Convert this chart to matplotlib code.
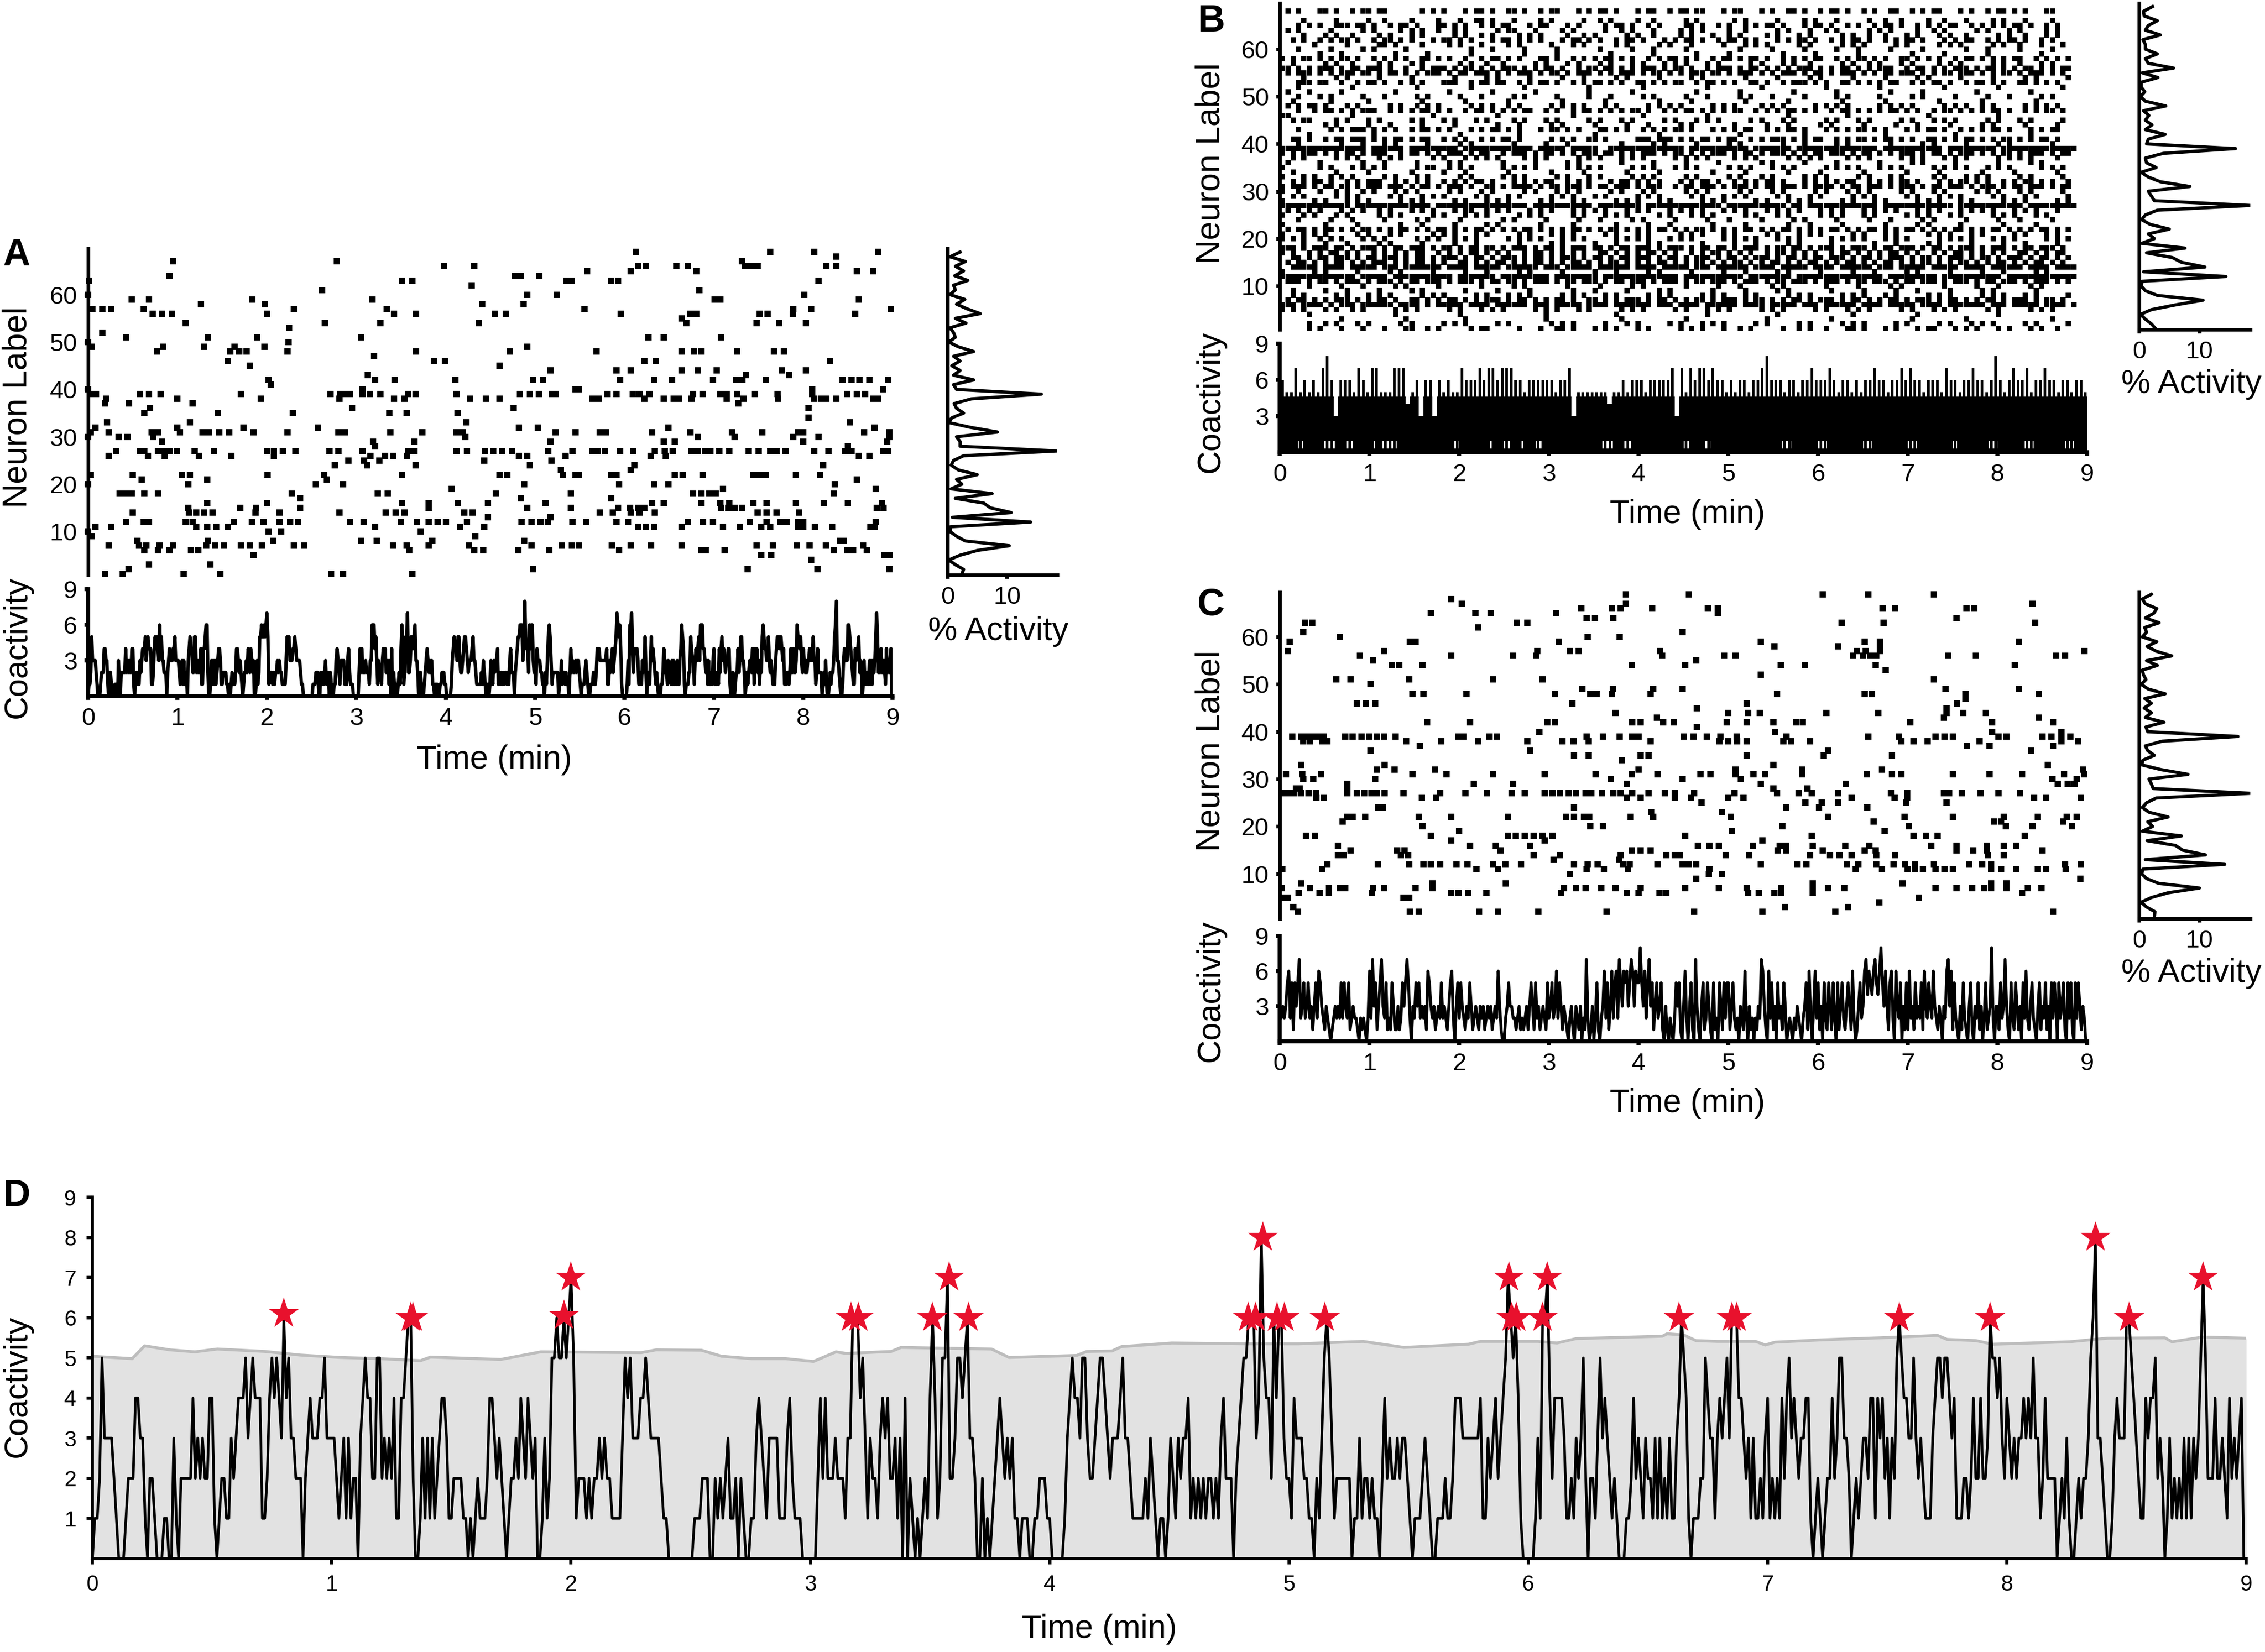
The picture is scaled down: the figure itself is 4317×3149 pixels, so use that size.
import numpy as np
import matplotlib
matplotlib.use("Agg")
import matplotlib.pyplot as plt

W, H = 4317, 3149
S = W / 1568.0  # reference was measured on a 1568 px wide preview
FONT = ["Liberation Sans", "DejaVu Sans"]
plt.rcParams["font.family"] = FONT

# raster A, read row by row: {neuron: times in min}
raster_a_left = {
    67: [0.95, 2.78], 66: [3.98, 4.32], 64: [0.91, 4.77, 4.84, 5.05],
    63: [0.01, 3.51, 3.63, 5.35, 5.41], 62: [4.29], 61: [2.62], 60: [0.0, 4.91, 5.24],
    59: [0.49, 0.68, 1.84, 3.18], 58: [1.26, 1.98, 4.41, 4.87],
    57: [0.05, 0.16, 0.26, 0.62, 2.3, 3.34], 56: [0.72, 0.83, 0.94, 2.0, 3.42, 3.67, 4.55, 4.67],
    54: [1.09, 2.65, 3.27, 4.37], 53: [2.25], 52: [0.16], 51: [0.42, 1.34, 1.89, 3.05], 50: [0.0, 2.24],
    49: [0.04, 0.84, 1.3, 1.64, 1.97, 4.91], 48: [0.77, 1.59, 1.69, 1.77, 2.23, 3.67, 4.72],
    47: [3.2], 46: [1.56, 3.87, 3.99], 45: [1.81, 4.6], 44: [5.17], 43: [3.13],
    42: [2.02, 3.21, 3.43, 4.11, 4.98, 5.09], 41: [2.04], 40: [0.0, 3.07, 5.45],
    39: [0.04, 0.09, 0.58, 0.68, 0.81, 1.71, 2.71, 2.82, 2.87, 2.93, 3.07, 3.15, 3.27, 3.58, 3.66, 4.12,
         4.83, 4.94, 5.04, 5.19, 5.23],
    38: [0.2, 1.0, 1.93, 2.81, 3.42, 3.54, 4.27, 4.45, 4.6], 37: [0.19, 0.46, 1.17], 36: [0.69, 2.95, 4.76],
    35: [0.63, 1.45, 2.29, 3.37, 3.56, 4.13], 33: [0.21, 1.14, 4.23], 32: [0.08, 1.0, 1.74, 2.57, 4.82, 5.03],
    31: [0.03, 0.23, 0.71, 0.78, 1.03, 1.28, 1.35, 1.47, 1.58, 1.85, 2.23, 2.8, 2.87, 3.38, 3.74, 4.12, 4.19,
         5.23, 5.45],
    30: [0.0, 0.34, 0.44, 0.73, 4.22], 29: [0.83, 3.19, 3.65, 5.17], 28: [3.21],
    27: [0.31, 0.58, 0.63, 0.78, 0.84, 0.91, 0.99, 1.19, 1.41, 2.0, 2.08, 2.18, 2.32, 2.7, 2.8, 3.07, 3.58,
         3.65, 4.12, 4.24, 4.44, 4.53, 4.63, 4.74, 5.15, 5.42],
    26: [0.23, 0.67, 0.86, 1.24, 1.6, 2.08, 3.16, 3.32, 3.41, 3.57, 4.82, 4.91, 5.34],
    25: [2.91, 3.09, 3.26, 4.43, 5.18], 24: [2.76, 3.12, 3.66, 4.94], 23: [5.29],
    22: [0.03, 0.5, 1.05, 1.14, 2.01, 2.64, 3.51, 4.6, 4.69, 5.31, 5.45], 21: [0.6, 1.33, 2.67],
    20: [0.0, 1.12, 2.55, 2.85, 4.88], 19: [4.07], 18: [0.35, 0.42, 0.49, 0.63, 0.78, 2.28, 3.24, 3.35, 4.56, 5.4],
    17: [2.37, 4.84], 16: [1.33, 2.0, 3.51, 3.81, 4.14, 4.47, 5.12], 15: [1.12, 1.7, 1.88, 2.37, 3.81, 4.91, 5.4],
    14: [0.5, 1.13, 1.21, 1.3, 1.39, 1.87, 2.14, 2.81, 3.33, 3.44, 3.54, 4.21, 4.3], 13: [4.47, 5.17],
    12: [0.42, 0.62, 0.68, 1.09, 1.17, 1.63, 1.83, 1.96, 2.14, 2.26, 2.35, 2.93, 3.08, 3.5, 3.68, 3.81, 3.91,
         4.0, 4.24, 4.85, 4.96, 5.06, 5.14, 5.42],
    11: [0.08, 0.26, 1.21, 1.33, 1.43, 1.56, 3.21, 4.16, 4.43], 10: [0.0, 2.02, 2.16, 3.72], 9: [0.04, 4.33],
    8: [0.55, 1.34, 2.07, 3.05, 3.23, 3.85, 4.88],
    7: [0.23, 0.57, 0.65, 0.8, 0.95, 1.32, 1.42, 1.52, 1.71, 1.81, 1.94, 2.3, 2.42, 3.41, 3.56, 3.81, 4.26, 4.96,
        5.3, 5.41],
    6: [0.63, 0.78, 0.91, 1.15, 1.23, 3.59, 4.32, 4.42, 4.81, 5.16], 5: [1.85], 3: [0.68, 1.37], 2: [0.45, 4.98],
    1: [0.19, 0.39, 1.07, 1.48, 2.72, 2.85, 3.63],
}
raster_a_right = {
    69: [6.13, 7.63, 8.12, 8.84], 68: [8.37], 67: [7.31], 66: [6.15, 6.24, 6.58, 6.71, 7.35, 7.42, 7.49, 8.26, 8.37],
    65: [5.58, 6.07, 6.8, 8.6, 8.78], 63: [5.85, 5.93, 8.17], 61: [6.84], 60: [8.01], 59: [7.01, 7.07, 8.62],
    57: [5.55, 7.89, 8.09, 8.98], 56: [5.96, 6.73, 6.8, 7.51, 7.6, 7.88, 8.58], 55: [6.64],
    54: [6.69, 7.48, 7.73, 8.03], 51: [6.27, 6.44, 7.08], 48: [5.69, 6.64, 6.78, 6.86, 7.26, 7.67, 7.78],
    46: [6.22, 6.35, 8.3], 44: [5.91, 6.07, 6.64, 6.82, 7.03, 7.76, 8.03], 43: [7.36, 7.84],
    42: [5.95, 6.33, 6.53, 6.99, 7.25, 7.32, 7.58, 8.44, 8.54, 8.63, 8.74, 8.95], 40: [5.49, 8.1, 8.89],
    39: [5.81, 5.91, 6.09, 6.17, 6.28, 6.77, 6.87, 7.07, 7.14, 7.26, 7.46, 7.71, 8.1, 8.49, 8.6, 8.69],
    38: [5.64, 5.71, 6.22, 6.44, 6.55, 6.61, 6.75, 7.14, 7.33, 7.72, 8.12, 8.2, 8.26, 8.37, 8.78, 8.83],
    37: [7.27], 36: [8.06], 34: [8.06], 33: [8.52], 32: [6.49, 8.8],
    31: [5.72, 5.79, 6.31, 6.74, 7.2, 7.54, 7.94, 8.0, 8.68, 8.96], 30: [6.82, 7.23, 7.89, 8.17, 8.96],
    29: [6.44, 6.56, 8.0, 8.94], 28: [8.5],
    27: [5.64, 5.7, 5.78, 5.95, 6.1, 6.34, 6.45, 6.54, 6.75, 6.82, 6.9, 6.96, 7.06, 7.17, 7.39, 7.5, 7.63, 7.7,
         7.8, 8.12, 8.28, 8.47, 8.54, 8.89, 8.95],
    26: [6.29, 6.46, 8.62, 8.74], 24: [6.11, 8.22], 23: [6.07],
    22: [5.49, 5.85, 5.91, 6.56, 6.65, 6.87, 7.44, 7.51, 7.58, 7.92, 8.19], 21: [8.6], 20: [5.94, 6.33, 6.49, 8.35],
    19: [7.1, 8.81], 18: [6.77, 6.86, 6.95, 7.02, 8.34], 17: [5.85],
    16: [6.31, 6.44, 6.86, 7.07, 7.17, 7.44, 7.59, 7.92, 8.23, 8.5, 8.88],
    15: [5.93, 6.06, 6.15, 6.22, 7.08, 7.16, 7.23, 7.31, 8.82, 8.9], 14: [5.72, 5.87, 6.07, 6.17, 6.34, 7.49, 7.59, 7.7, 7.95],
    12: [5.57, 5.91, 6.04, 6.71, 6.88, 6.99, 7.4, 7.59, 7.74, 7.81, 7.94, 8.0, 8.81],
    11: [6.15, 6.24, 6.33, 6.64, 7.1, 7.29, 7.53, 7.63, 7.94, 8.0, 8.13, 8.32, 8.75, 8.8], 8: [8.41, 8.45],
    7: [5.49, 5.86, 6.07, 6.3, 6.64, 7.48, 7.66, 7.93, 8.07, 8.25, 8.67], 6: [5.94, 6.86, 6.91, 7.12, 8.34, 8.49, 8.56, 8.71],
    5: [7.53, 7.64, 8.91, 8.97], 4: [8.09], 2: [7.38, 8.16, 8.96],
}

# raster C
raster_c_left = {
    69: [3.86], 68: [1.91], 67: [2.03, 3.86], 66: [3.36, 3.7, 3.8, 4.15], 65: [1.68, 2.18, 2.35, 3.08],
    64: [3.42, 3.51, 3.72], 63: [0.28, 0.36, 2.64, 2.76], 62: [2.21], 61: [0.26, 4.49], 60: [0.67, 3.43, 3.79],
    59: [0.11, 1.45, 1.51, 3.11], 57: [0.09, 1.16, 2.87, 3.23, 3.33, 4.24],
    56: [0.89, 1.91, 2.6, 2.86, 4.26], 55: [1.04], 54: [1.25, 1.33, 1.59, 3.92], 51: [0.63, 0.79, 1.44, 2.38, 2.93],
    50: [1.01], 49: [3.37, 3.71, 4.16], 48: [1.48, 1.6, 2.08, 3.07, 3.46, 3.53, 3.7, 4.13],
    46: [0.86, 0.96, 1.06, 3.26], 44: [3.74], 43: [4.2], 42: [1.64, 2.12, 2.98, 3.07, 3.93, 4.02, 4.27, 4.39], 40: [2.89],
    39: [0.14, 0.24, 0.3, 0.36, 0.42, 0.49, 0.73, 0.81, 0.91, 1.0, 1.08, 1.16, 1.29, 1.99, 2.05, 2.34, 2.42, 3.42,
         3.6, 3.79, 3.93, 4.0],
    38: [0.26, 0.34, 0.47, 0.53, 1.41, 1.8, 2.21, 2.76, 3.15, 3.27, 3.44, 4.13], 37: [1.56], 36: [1.01, 2.79],
    35: [3.28, 3.44, 4.02, 4.11], 34: [3.81], 33: [0.24, 1.17], 32: [1.08, 1.28, 1.73, 4.0],
    31: [0.07, 0.25, 0.46, 1.48, 1.86, 2.38, 2.95, 3.52, 3.92, 4.21], 30: [0.26, 0.37, 1.06, 3.69],
    29: [0.75, 2.16, 2.6, 3.87], 28: [0.18, 0.22, 0.75],
    27: [0.03, 0.09, 0.16, 0.24, 0.32, 0.4, 0.75, 0.86, 0.94, 1.02, 1.08, 1.17, 1.38, 1.79, 2.07, 2.31, 2.58, 2.73,
         2.95, 3.04, 3.12, 3.22, 3.3, 3.41, 3.47, 3.59, 3.72, 3.8, 3.93, 4.11, 4.29, 4.4],
    26: [0.41, 0.49, 1.58, 1.74, 3.87, 4.02, 4.4], 24: [1.1, 1.15, 3.28], 23: [4.14],
    22: [0.75, 0.81, 0.95, 1.55, 1.91, 2.54, 3.19, 3.28, 3.39, 3.45, 3.91, 4.16], 21: [0.7], 20: [1.59, 3.46, 3.6],
    19: [2.0], 18: [0.29, 0.39, 1.68, 2.54, 2.63, 2.73, 2.83, 2.93, 3.04], 17: [1.91, 2.95],
    16: [0.65, 2.12, 2.41, 2.79], 15: [0.79, 1.31, 1.39, 2.46, 3.92, 4.02, 4.13],
    14: [0.65, 0.71, 1.35, 1.43, 2.83, 3.12, 3.8, 4.31, 4.4], 13: [3.05, 3.78],
    12: [0.53, 1.09, 1.44, 1.6, 1.68, 1.79, 1.97, 2.09, 2.38, 2.51, 2.69, 3.28, 3.43, 3.54, 3.82, 3.9, 4.21],
    11: [0.03, 0.47, 2.19, 2.43, 3.42, 3.61, 3.88], 10: [3.23], 8: [0.24, 1.7, 2.52],
    7: [0.02, 0.34, 0.55, 0.67, 0.73, 1.04, 1.16, 1.51, 1.7, 3.17, 3.3, 3.41, 3.58, 3.74, 4.02],
    6: [0.21, 0.44, 0.55, 1.03, 1.91, 1.99, 2.1, 2.3, 3.13, 3.87, 4.0, 4.23, 4.31],
    5: [0.04, 0.09, 1.38, 1.44], 3: [0.15], 2: [0.2, 1.45, 1.55, 2.22, 2.43, 2.88, 3.64],
}
raster_c_right = {
    69: [4.56, 6.05, 6.56, 7.29], 67: [8.39], 66: [4.77, 4.88, 6.72, 6.86, 7.65, 7.74], 65: [4.88], 64: [7.54],
    63: [6.26, 6.73, 8.42], 61: [4.49], 59: [5.36, 6.52, 6.69, 8.24], 58: [5.51, 6.22, 6.69], 57: [6.43, 6.53, 6.69, 8.97],
    56: [4.95, 5.08, 6.39, 6.5, 6.58, 6.65, 7.45, 7.76, 8.65, 8.75], 55: [4.64], 54: [4.52, 5.58, 5.85, 6.64, 8.19],
    53: [6.75], 52: [5.36], 51: [7.29], 49: [4.49, 7.42, 8.24], 48: [5.54, 6.52, 6.6, 7.64, 8.46], 47: [7.64],
    46: [5.2, 7.55], 45: [4.65, 7.43], 44: [5.0, 5.22, 5.35, 6.09, 6.67, 7.43, 7.62, 7.87], 43: [7.4, 8.46],
    42: [4.98, 5.2, 5.5, 5.75, 5.83, 7.03, 7.94, 8.62], 41: [4.65], 40: [5.52, 7.94, 8.71],
    39: [4.5, 4.61, 4.76, 4.91, 5.09, 5.65, 6.56, 6.9, 7.31, 7.41, 7.5, 8.01, 8.1, 8.5, 8.6, 8.71, 8.81],
    38: [4.9, 5.0, 5.1, 5.2, 5.61, 5.7, 5.91, 6.93, 7.06, 7.22, 7.8, 8.71, 8.9], 37: [7.66, 7.91, 8.62], 36: [6.11, 8.37],
    35: [5.2, 6.06, 6.82], 33: [5.5, 8.56], 32: [5.08, 5.82, 6.71, 8.95],
    31: [4.69, 4.8, 5.08, 5.28, 5.41, 5.82, 6.54, 6.82, 6.93, 7.5, 7.91, 8.27, 8.74, 8.96], 30: [4.49, 5.14, 8.61, 8.88],
    29: [5.36, 6.31, 8.67, 8.78, 8.86], 28: [5.5, 5.88],
    27: [4.62, 5.07, 5.54, 5.78, 5.93, 6.22, 6.81, 6.99, 7.4, 7.46, 7.6, 7.81, 8.01, 8.25],
    26: [4.58, 5.0, 5.17, 6.37, 6.85, 6.99, 8.41, 8.54, 8.93], 25: [4.7, 5.86, 6.04, 6.22, 6.98, 7.43], 24: [5.64, 6.01, 6.55],
    23: [4.93], 22: [5.03, 6.11, 6.96, 7.5, 8.07, 8.45, 8.77, 8.88], 21: [6.62, 7.96, 8.04, 8.73],
    20: [5.6, 7.01, 8.09, 8.39, 8.83], 19: [5.04, 6.74], 18: [4.52, 5.93, 7.06, 7.2, 7.33, 8.3], 17: [5.38],
    16: [4.66, 4.79, 4.89, 5.27, 5.57, 5.64, 5.94, 6.3, 6.57, 7.26, 7.54, 7.88, 8.07, 8.21],
    15: [5.55, 5.64, 6.05, 6.52, 6.64, 7.54, 7.73, 7.88, 8.5], 14: [4.46, 4.97, 5.23, 5.91, 6.13, 6.24, 6.37, 6.65, 6.86, 7.89, 8.07],
    12: [4.49, 4.56, 4.64, 5.36, 5.77, 5.87, 6.32, 6.45, 6.65, 6.84, 6.97, 7.08, 7.29, 7.68, 7.83, 7.93, 8.75, 8.93],
    11: [4.79, 6.42, 6.71, 7.0, 7.08, 7.17, 7.31, 7.41, 7.5, 7.93, 8.04, 8.21, 8.45, 8.54, 8.76], 10: [4.78, 4.93],
    9: [4.64, 8.92], 8: [5.94, 6.94, 7.93, 8.1],
    7: [4.52, 4.89, 5.2, 5.59, 5.94, 6.11, 6.29, 7.31, 7.54, 7.72, 7.85, 7.93, 8.1, 8.34, 8.49],
    6: [5.22, 5.34, 5.51, 5.59, 5.94, 8.27], 5: [7.12], 4: [6.68], 3: [5.63, 6.33], 2: [4.62, 5.38, 6.19, 8.62],
}

# raster B is too dense for time lists: one string per neuron, one column = 0.06 min
raster_b_rows = {
    68: ".#.#...##.#..#.##.##......#.#.#...#.##.#..##.#..#.##...#.#.##.#...#.##..#.##.##...#.##...#.#..##.#..#.##.#..#.#..##..#.#.##...#.#..#.##.#.#...##.",
    66: "....#.....#.....#..#....#....#...#..##.#...#....#.#.....#..#.#....#..#.....#.#......#.#.....#....#.#...#.....#..#..#....#..#...#....#.#...#....#...",
    65: "...#.#.#..###.##.#..#.##.#...##.#.#..#.#.##...#.##...#.#....#.##.#..#.#....##.#..#.#..#.#.##.#...#.##.#..#.#..#.##.#..#.#.#.##..#.#.#.#.##.#..#.#.",
    64: ".#.#.....#.....#.#....#.#.#..#..#.#.....#.##...#....#.#.....#..#.#...#....#.#.#....#..#.....#.#...#..#.#.....#.#.#....#..#.#.....#.#...#.#....#.#.",
    63: "....#...#.#..#....#.#...#.#.....#.#..#.#....#.#.#....#..#.#.....#.#..#....#.#...#..#.#....#.#...#.#.....#.#..#..#...#.#...#.#..#.....#.#..#...#.#..",
    62: "..#.#..#.#.##.#..#.##.#.#...#.##.#.#...#.##.#.#.#...#.##.#.#..#.##.#...#.#.##.#..#.##.#.#...#.#.##.#..#.#.##.#..#.#.##.#...#.#.##..#.#.##.#..#.#..",
    61: "......#.....#.....##.#....#....#.#...#....#.#.....#...#.#.....#.#.....#.#...#.....#...#.#.#.....#.#.....#.#.#.....#.#.....#.#.#.....#.#..#...#...#.",
    60: "...#.....#.....#.#.....#...........#...#.....#.....#.......#.....#...#.....#.........#.....#.....#.....#...#.....#.....#.......#...#.....#.....#....",
    59: ".......#...#.........#.....#.......#.........#.....#.........#.......#.......#.....#.........#.....#.......#.........#.....#.......#.........#......",
    58: "#.#.##.#.#.##.#..#.#.#.#..##.#.#..#..#.##.#.#...##.#..#.#.#.##.#.#..#.#.##.#.#..#.##.#.##.#..#.#.#.##..#.#.##.#.#..##.#.#.#..#.##.#.#.#.##..#.#.#.#",
    57: "..#.....#.#..#....#.#...#.#......#.#..#..#.....#.#...#.#...#.#...#.#...#.#.#...#.#.....#.#...#.#..#.....#.#..#.#...#.#....#.#.#.....#.#..#...#.#...",
    56: "##.#.#.###.#.##.###.#..#..#.###.#.##.#.#.###.#.#.##.#..#.##.##.#.#.###.#.##.#..#.###.#.##.#.#.#.###.#.#.##.#.#.###..#.##.#.#.###.#.##.#.#.##.#.#.##",
    55: ".#.###.#.#.###.##.#.##.#.#.###.#.##.###.#.#.###.#.##.#.###.#.#.###.#.##.#.#.###.##.#.###.#.#.###.#.##.#.###.#.#.##.###.#.#.##.###.#.#.##.#.###.#.#",
    54: "....#.....#.#.....#.....#.......#.....#.#.....#.....#...#.....#.#.....#.....#.#.......#.....#.....#.#.....#.....#.....#.#.....#.....#.....#.#.....#",
    53: "...###.##..#..#.##.#..#.#.#...###..#.##.##..#.#.##.#..#.#.##.#.#..##.#.#.##..#.##.#.#..##.#..#.###.#.#..##.#.#.#.##..#.#.##.#..#.##.#.#..##.#.#.#..",
    52: "...#.........#...........#.........#.........#...........#.........#...........#.........#...........#.........#...........#.........#...........#.",
    51: ".#...#.....#.........#.........#.......#.......#.........#.......#...........#.......#.........#.......#.........#.....#.........#.........#.......",
    50: "...#...#.#.....#...#.....#.#.....#...#.....#.#.....#.....#...#.....#.#.....#...#.....#.#...#.....#.....#.#.....#.....#.#.....#.....#...#.....#.#...",
    49: "..#......#......#.........#.......#.......#.........#.......#.........#.....#.........#.......#.........#.......#.........#.......#.........#.......",
    48: ".#.#.##.#...#.#.....#.#..#.#.#.....#.#.#..#.#.....#.#.#.#...#.#.....#.#.#.#.....#.#.#....#.#.#.....#.#.#.#.....#.#.#.#.....#.#.#..#.#.....#.#.#.#..",
    47: "...#..#.##.#.#.###..#.#.#.##.#.#..#.##.#.#.#.##..#.#..#.##.#.#.#.##.#..#.#.##.#.#.#.##..#.#.#.##.#.#..#.##.#.#.#.##.#.#..#.##.#.#.#.##.#..#.#.##.#.",
    46: "##...........#..............#...........#.............#............#...........#..............#..........#..............#............#.............",
    45: "..#.##....#.#...#.#.....#.#...#.#...#.#....#.#...#.#.....#.#...#.#.....#.#...#.#.#.....#.#...#.#.....#.#...#.#.....#.#...#.#.#.....#.#...#.#.....#.",
    44: "........#.#.....#...#.....#.....#.......#...#.....#.#.....#.....#...#.....#.#.......#.....#...#.....#.#.....#.....#...#.....#.....#.#.....#.....#..",
    43: "...#.....#.#.###.#.#.#..#.##.#.#...#.#.##.#.#...#.##.#.#...##.#.#..#.#.#.##.#...#.#.#.##..#.#.##.#...#.#.#.##.#.#...#.#.##.#..#.#.#.##.#...#.#.##..",
    42: ".....#...........#...............#..........#.............#...........#..............#...........#..............#............#.............#.......",
    41: "..##.#..#.##.###.#.#.##.#.##..#.#.#..#.#.##.#.....#.#.#..##.#.....###.###.#.#.##.#.##..#.#.###.#.#.##..#.#.##.#.##.#.#..##.#.#.##.#.#.##.#.#.##.#..",
    40: "...#.......#...#...#.#.....#.....#.#.......#.....#...#.........#.....#.#.....#.....#.#.......#...#.....#.#.......#.....#.#.....#.....#.#.......#...",
    39: "################.######.#########.#############.#####.#####..##############.###########.#######.###############.###########.#########.##############",
    38: "#.#.###.#.#.##.#.###..#.##.#.#.###.#.##..#.###.#.##.#.#.###.##.#.#.###.#.##.#.#.###.#.##.#.###.#.#.##.###.#.##.#.#.###.#.##.#.###.#.#.##.#.###.#.##",
    37: "..#.#.....#.#.#...#.#.#.....#.#...#.#.#.#....#.#.#.....#.#.#...#.#.#.....#.#.#.#....#.#.#.....#.#.#.#....#.#.#.....#.#.#...#.#.#.....#.#.#.#....#.",
    36: ".#.....#.......#...#.....#.....#.#.......#.....#.....#.#.......#.....#.....#.....#.......#.#.....#.....#.......#.....#.#.....#.......#.....#.#.....",
    35: "#......#.#...#.#.#.#.....#.##..#.#.#.....#.#.#.#.....#.#.#.#.....#.#.#...#.#.#.....#.#.#...#.#.#.....#.#.#.#...#.#.#.....#.#.#.#...#.#.#.....#.#.#.",
    34: "..#.......#.....#.......#.....#...#.......#.......#.....#.......#.....#.........#.....#.......#.....#.......#.......#.....#.......#.....#.......#...",
    33: "#...#.#..#.#.#.....#.#...#.#.....#.#.....#.#.#.....#.#...#.#.....#.#.#.....#.#.....#.#...#.#.....#.#.#.....#.#...#.#.....#.#...#.#.#.....#.#.....#.",
    32: "..#.#.##.#..#.#.###..#.#.#.#..#.#.#.##.#...#.#.#.##..#.#.#...#.##.#.#.#...#.#.##.#..#.#.#.##.#...#.#.#.#.##..#.#.#.##.#...#.#.##.#.#..#.#.##.#.#..#",
    31: "#.###.#.##.##.#.###.###.#.##.#.###.#..##.#.####.#.##.###.#.##.###.#.###..#.##.###.#.###.#.##.###.#.####.#.##.###.#.###.#.##.###.#.###.#.##.###.#.##",
    30: "#..#...#..#.#..#.#...#.#.#.....#.#...#.#.....#.#...#.#.#.....#.#...#.#.....#.#.#.....#.#...#.#.....#.#...#.#.#.....#.#...#.#.....#.#.#...#.#.....#.",
    29: "..#.#.....#.#.#.....#.#...#.#.#.....#.#...#.#.....#.#.#...#.#.....#.#.#.....#.#...#.#.#.....#.#...#.#.....#.#.#.....#.#...#.#.#.....#.#...#.#.....#",
    28: "#.....#.#...#.#.#.....#.#.#.....#.#...#.#.#.....#.#...#.#.....#.#.#...#.#.....#.#.#.....#.#...#.#.#.....#.#...#.#.....#.#.#...#.#.....#.#.#.....#.#",
    27: "#############.##############.#################.###########.########.##############.###########.##.#############.#############.############.#########",
    26: ".#.#.#.#...#.#.#..#.#...#.#.#...#.##..#.#.#...#.#.#...#.#.#.#...#.#.#...#.#.#.#...#.#.#...#.#.#.#...#.#.#...#.#.#.#...#.#.#...#.#.#.#...#.#.#...#.",
    25: "#...#.#...#.#.....#.#.#.....#.#...#.#.#.....#.#.#.....#.#...#.#.#.....#.#...#.#.#.....#.#...#.#.....#.#.#...#.#.....#.#.#...#.#.....#.#.#...#.#....",
    24: "...#.....#...#.....#.....#.#.....#.......#.#.....#.....#...#.....#.#.....#.....#...#.....#.....#.#.....#.....#...#.....#.#.....#.....#...#.....#...",
    23: "#.......#.....#.......#...#.....#.....#.#.......#.....#.......#.....#...#.......#.....#.......#...#.....#.......#.....#.#.....#.......#.....#.......",
    22: ".#.##.#.##.#.#.##.#.#.##.#.#.##.#.#.##.#.#.#.##.#.#.#.##.#.#.##.#.#.#.##.#.#.##.#.#.#.##.#.#.##.#.#.#.##.#.#.##.#.#.##.#.#.#.##.#.#.##.#.#.#.##.#.#",
    21: "#...#.#.#.....#.#...#.#.....#.#.#...#.#.....#.#...#.#.#.....#.#...#.#.....#.#.#...#.#.....#.#...#.#.#.....#.#...#.#.....#.#.#...#.#.....#.#...#.#..",
    20: "#.#.#..#.#.#...#.#.#.....#.#.#..#.#.#.....#.#.#.#...#.#.#.....#.#.#.#...#.#.#.....#.#.#.#...#.#.#.....#.#.#.#...#.#.#.....#.#.#.#...#.#.#.....#.#.#",
    19: "....#...#...#.....#.#.....#.....#...#.......#.....#.#.....#...#.....#.#.......#.....#...#.....#.#.....#.......#...#.....#.#.....#.....#...#.....#...",
    18: "###.#.###.##.#.###.#.##.###.#.##.#.##.##.#.###.#.##.#.###.##.#.##.###.#.###.#.##.##.#.###.#.##.##.#.###.#.###.#.##.###.#.##.#.###.#.###.#.##.###.#.",
    17: "#.#..#.#.##.#.#..#.#.#.#.##..#.#.#.##.#.#.#..#.##.#.#.#.#..##.#.#.#.##.#.#..#.#.##.#.#.#..#.##.#.#.#..#.##.#.#.#.##.#.#..#.#.##.#.#.#.#..##.#.#.##.",
    16: "..##.#.##.###.#.##.###.#.##.#.###.#.##.#.###.#.##.#.###.#.##.#.##.###.#.##.#.###.#.##.#.###.#.##.#.##.###.#.##.#.###.#.##.#.###.#.##.#.###.#.##.#.#",
    15: ".#.##.#.#.##.#.#.###.#.#.##.#.#..##.#.#.##.#.#.##.#.#.##.#.#.##.#.#.#.##.#.#.##.#.#.##.#.#.##.#.#.##.#.#.##.#.#.##.#.#.##.#.#.##.#.#.##.#.#.##.#.#.",
    14: "..#####.####.#####.###.#######.####.#####.######.###.#####.######.####.#####.###.######.####.#####.####.######.###.#####.#####.####.######.####.####",
    13: "#.....#.#.....#.....#.#.....#.....#...#.....#.#.....#.....#...#.....#.#.....#.....#...#.....#.#.....#.....#...#.....#.#.....#.....#...#.....#.#.....",
    12: "##############.#####.###########.#######.#########.########.##############.###########.########.################.#########.###########.#############",
    11: ".###.#.##.#.###.#.###.#.##.###.#.###.#.##.##.#.###.#.##.###.#.##.###.#.###.#.##.###.#.###.#.##.###.#.###.#.##.###.#.##.###.#.###.#.##.###.#.###.#.#",
    10: ".....#.....#...#.....#.#.....#.......#.....#.#.......#.....#.....#.#.......#.....#...#.....#.#.......#.....#.....#.#.......#.....#...#.....#.#.....",
    9: "..#.....#...#.....#.....#.#.......#.....#.....#.......#...#.....#.....#.#.......#.....#.....#.#.......#.....#.....#...#.....#.....#.#.......#.......",
    8: "..#.#.....#.#...#.#.#.....#.#.#.....#.#...#.#.#.....#.#.#...#.#.....#.#.#.....#.#.#...#.#.....#.#.#.....#.#.#...#.#.....#.#.#.....#.#.#...#.#.....#",
    7: ".#.##.#.#.###.#.#.##.#..##.#.#.##.#.#.###.#.##.#.#.##.#..##.#.#.###.#.##.#.#.##.#.###.#.##.#.#.##.#.###.#.##.#.#.##.#.###.#.##.#.#.##.#.###.#.##.#.",
    6: "###.####.#.###.######.####.#.#####.####.######.###.#####.####.#######.###.####.######.####.#####.###.######.####.#####.####.#######.###.#####.####.#",
    5: "#.#.#...#.#..#.#.....#.#.#.....#.#...#.#.#.....#.#.#...#.#.....#.#.#.....#.#...#.#.#.....#.#.#.....#.#...#.#.#.....#.#...#.#.#.....#.#.....#.#.#...",
    4: ".....#...............#...........#...............#............#................#............#.............#...........#..............#.............",
    3: "...........#...........#..........#..............#.............#...........#..............#...........#..............#.........#...............#....",
    2: ".....#..#.#...#.#.....#.#.....#.#.#.....#.#.......#.#.#.....#...#.#.....#.#...#.#.#.....#.#.....#.#.....#.#.#.....#.#.....#.#...#.#.#.....#.#.....#.",
    1: ".....#.#...#...#...#...##..#.#.....#.##.....#...#..##.#...#.#.#...#.#.....#.#.#...#..#.#.....#..#.#..#...##.#...#.#...#.##...#.#.#...#.#...#.#..#..",
}

# coactivity of A and D, one list per minute, 0.01 min sampling
coact_a_m0 = [0, 1, 1, 2, 5, 3, 3, 3, 3, 2, 1, 0, 0, 0, 1, 2, 2, 2, 4, 4, 3, 3, 1, 0, 2, 2, 1, 0, 0, 0, 1, 1, 0, 0, 3, 1, 0, 2,
              2, 2, 2, 2, 4, 2, 3, 2, 3, 2, 2, 4, 4, 1, 0, 1, 2, 2, 1, 1, 3, 2, 3, 4, 4, 4, 5, 3, 4, 5, 4, 4, 4, 1, 1, 2,
              4, 5, 4, 5, 4, 3, 6, 4, 5, 3, 3, 2, 2, 2, 0, 2, 3, 4, 3, 3, 3, 4, 4, 5, 3, 3]
coact_a_m1 = [3, 3, 2, 1, 2, 3, 1, 3, 1, 2, 2, 0, 3, 4, 5, 4, 4, 2, 2, 5, 5, 2, 3, 2, 3, 2, 4, 1, 1, 4, 4, 5, 6, 6, 2, 0, 0, 1,
              3, 1, 3, 1, 3, 1, 2, 3, 4, 4, 3, 1, 1, 2, 2, 2, 2, 1, 1, 0, 1, 0, 1, 2, 1, 1, 1, 2, 4, 4, 3, 2, 3, 2, 1, 0,
              1, 2, 2, 3, 2, 4, 3, 2, 4, 3, 2, 3, 0, 0, 1, 3, 1, 2, 5, 5, 6, 5, 5, 6, 5, 6]
coact_a_m2 = [7, 5, 1, 2, 2, 2, 1, 2, 1, 2, 2, 3, 2, 3, 2, 2, 1, 1, 1, 1, 3, 5, 4, 5, 3, 3, 3, 4, 4, 5, 4, 3, 3, 3, 3, 2, 1, 1,
              0, 0, 0, 0, 0, 0, 0, 0, 0, 0, 1, 1, 1, 2, 2, 2, 0, 0, 2, 1, 2, 1, 2, 3, 1, 1, 2, 0, 2, 1, 0, 0, 1, 1, 3, 4,
              3, 2, 1, 3, 3, 3, 3, 1, 1, 1, 3, 4, 2, 1, 1, 1, 0, 0, 0]
coact_a_m3 = [0, 0, 0, 2, 4, 2, 4, 2, 2, 2, 3, 2, 2, 2, 1, 3, 3, 6, 6, 6, 4, 5, 3, 1, 3, 2, 2, 1, 3, 4, 3, 4, 2, 2, 3, 1, 3, 0,
              4, 0, 2, 1, 0, 1, 0, 1, 2, 1, 4, 6, 4, 1, 2, 5, 5, 7, 2, 2, 3, 5, 5, 4, 5, 6, 3, 3, 2, 0, 0, 2, 0, 1, 0, 1,
              2, 3, 4, 3, 2, 3, 2, 3, 1, 1, 0, 1, 1, 1, 0, 0, 1, 1, 2, 2, 2, 1]
coact_a_m4 = [1, 0, 0, 0, 0, 0, 1, 3, 4, 5, 4, 4, 3, 5, 5, 3, 2, 2, 3, 4, 5, 5, 4, 3, 2, 3, 3, 3, 4, 5, 3, 3, 2, 1, 1, 1, 1, 1,
              2, 1, 3, 2, 1, 0, 1, 1, 0, 1, 3, 2, 1, 3, 2, 3, 3, 4, 1, 2, 1, 2, 1, 2, 1, 2, 2, 1, 2, 1, 3, 4, 2, 2, 2, 0,
              2, 3, 4, 5, 5, 6, 6, 6, 3, 4, 8, 5, 4, 4, 2, 6, 4, 6, 6, 3, 2]
coact_a_m5 = [2, 1, 4, 3, 3, 3, 2, 2, 1, 1, 0, 2, 1, 3, 5, 6, 5, 3, 1, 2, 2, 2, 2, 2, 2, 0, 1, 1, 3, 1, 2, 2, 1, 2, 1, 1, 0, 2,
              4, 2, 3, 2, 2, 3, 2, 3, 3, 2, 1, 0, 1, 1, 1, 2, 3, 2, 1, 0, 0, 1, 1, 1, 2, 1, 1, 2, 4, 4, 4, 3, 3, 3, 3, 3,
              3, 3, 4, 1, 1, 3, 2, 3, 4, 2, 3, 4, 5, 7, 6, 5, 6, 4, 1, 0, 0]
coact_a_m6 = [0, 0, 0, 1, 3, 1, 6, 6, 7, 4, 2, 4, 4, 4, 4, 3, 1, 1, 2, 1, 3, 2, 3, 5, 2, 0, 2, 2, 1, 3, 5, 3, 4, 3, 2, 1, 2, 1,
              0, 0, 0, 1, 1, 2, 4, 2, 3, 2, 1, 3, 2, 2, 1, 3, 1, 3, 1, 2, 1, 3, 1, 1, 3, 4, 6, 5, 4, 1, 0, 1, 1, 1, 2, 2,
              5, 4, 3, 3, 1, 3, 4, 3, 4, 5, 3, 6, 6, 6, 4, 4, 3, 2, 3, 1, 3, 1, 1, 2, 1, 3]
coact_a_m7 = [4, 1, 2, 1, 2, 1, 4, 2, 4, 5, 3, 4, 3, 2, 3, 3, 4, 4, 1, 0, 1, 2, 1, 0, 1, 2, 2, 4, 2, 3, 5, 5, 3, 3, 2, 0, 1, 2,
              1, 2, 3, 3, 2, 4, 4, 1, 4, 3, 4, 2, 3, 1, 3, 2, 5, 6, 5, 4, 4, 3, 3, 5, 3, 2, 3, 2, 1, 1, 1, 3, 4, 5, 5, 4,
              5, 5, 4, 3, 4, 1, 1, 1, 2, 2, 1, 2, 4, 2, 2, 4, 2, 2, 3, 6, 5, 5, 4, 5, 3, 2]
coact_a_m8 = [4, 3, 2, 3, 2, 3, 3, 4, 3, 4, 3, 5, 3, 3, 1, 2, 4, 2, 2, 2, 2, 0, 1, 2, 1, 3, 1, 0, 0, 1, 2, 1, 2, 2, 3, 5, 6, 8,
              3, 3, 2, 1, 0, 0, 1, 3, 4, 3, 3, 3, 6, 6, 5, 4, 3, 2, 1, 1, 4, 3, 4, 4, 5, 2, 3, 2, 0, 1, 3, 1, 2, 1, 2, 1,
              3, 1, 3, 1, 3, 2, 3, 5, 7, 5, 2, 2, 2, 4, 2, 2, 3, 2, 1, 4, 2, 3, 2, 3, 4, 0]

# coactivity of C, 60 samples per minute
coact_c_m0 = [3, 2, 3, 2, 3, 5, 6, 2, 5, 1, 5, 3, 5, 7, 2, 3, 5, 2, 3, 5, 2, 3, 1, 3, 5, 2, 6, 5, 3, 2, 1, 3, 2, 1, 0, 1, 2, 3, 2, 3,
              2, 5, 2, 5, 3, 2, 5, 1, 2, 3, 2, 2, 1, 0, 2, 1, 2, 1, 0, 2]
coact_c_m1 = [6, 2, 7, 3, 5, 1, 3, 5, 7, 3, 2, 5, 1, 2, 1, 5, 3, 1, 1, 3, 1, 2, 5, 3, 5, 7, 5, 2, 0, 3, 2, 5, 3, 5, 2, 3, 2, 3, 1, 6,
              5, 3, 2, 3, 1, 2, 3, 2, 5, 2, 3, 2, 1, 3, 5, 6, 2, 0, 3, 5]
coact_c_m2 = [2, 5, 3, 2, 1, 3, 2, 5, 3, 1, 2, 3, 2, 1, 3, 2, 3, 1, 2, 3, 2, 3, 1, 2, 3, 2, 6, 3, 1, 0, 0, 2, 3, 5, 3, 3, 2, 2, 1, 2,
              3, 1, 2, 1, 2, 3, 1, 3, 5, 3, 1, 5, 2, 3, 1, 2, 3, 2, 1, 5]
coact_c_m3 = [2, 3, 5, 2, 3, 6, 2, 5, 3, 1, 3, 2, 1, 0, 2, 3, 1, 0, 3, 2, 1, 3, 0, 2, 1, 7, 2, 0, 1, 3, 0, 2, 5, 1, 0, 2, 3, 6, 2, 5,
              1, 3, 6, 2, 5, 6, 2, 7, 5, 3, 6, 5, 6, 3, 5, 7, 6, 3, 6, 5]
coact_c_m4 = [5, 8, 5, 3, 6, 2, 5, 7, 3, 5, 1, 3, 5, 2, 3, 5, 1, 0, 3, 1, 0, 2, 1, 0, 2, 5, 3, 5, 1, 0, 3, 6, 2, 0, 3, 5, 1, 0, 7, 3,
              1, 0, 3, 5, 1, 2, 5, 3, 1, 0, 5, 1, 2, 0, 5, 3, 1, 5, 2, 5]
coact_c_m5 = [5, 1, 3, 5, 2, 1, 2, 0, 3, 2, 1, 6, 2, 0, 3, 1, 2, 0, 2, 1, 3, 2, 7, 6, 3, 1, 0, 6, 2, 5, 1, 3, 0, 5, 2, 3, 1, 5, 3, 0,
              1, 2, 1, 0, 2, 1, 3, 2, 1, 0, 2, 3, 5, 1, 6, 2, 0, 3, 6, 2]
coact_c_m6 = [5, 1, 3, 0, 5, 2, 1, 5, 3, 1, 5, 2, 0, 5, 1, 3, 5, 2, 1, 3, 5, 3, 1, 6, 2, 0, 1, 3, 5, 2, 3, 6, 7, 4, 6, 5, 4, 6, 7, 5,
              4, 6, 8, 5, 3, 6, 3, 1, 5, 6, 2, 0, 6, 3, 2, 5, 0, 3, 1, 5]
coact_c_m7 = [1, 6, 2, 3, 1, 5, 2, 3, 2, 5, 1, 6, 3, 2, 5, 3, 2, 6, 3, 2, 1, 3, 2, 0, 3, 2, 6, 7, 3, 6, 1, 5, 2, 1, 0, 3, 1, 5, 2, 1,
              0, 3, 5, 1, 0, 3, 2, 5, 1, 3, 0, 2, 5, 1, 2, 3, 8, 2, 0, 3]
coact_c_m8 = [3, 1, 5, 2, 3, 7, 3, 1, 0, 5, 2, 1, 5, 3, 1, 3, 0, 5, 2, 6, 2, 1, 3, 5, 2, 1, 0, 3, 5, 1, 3, 2, 5, 1, 3, 0, 5, 2, 5, 3,
              0, 5, 2, 3, 5, 1, 0, 5, 2, 5, 1, 0, 5, 2, 5, 3, 1, 3, 2, 0]

# coactivity of B is solid black: upper edge every 0.05 min, plus the white slots where it never falls below 1
coact_b_top = [6, 5, 5, 7, 5, 6, 5, 6, 5, 7, 8, 6, 3, 6, 6, 6, 5, 7, 6, 5,
               7, 7, 5, 5, 5, 7, 7, 7, 4, 5, 6, 3, 6, 6, 3, 6, 5, 6, 5, 5,
               7, 6, 6, 6, 7, 6, 7, 7, 6, 7, 7, 7, 6, 6, 5, 6, 6, 6, 6, 6,
               6, 5, 6, 6, 7, 3, 5, 5, 5, 5, 5, 5, 5, 4, 5, 5, 6, 5, 6, 6,
               6, 5, 6, 6, 6, 6, 6, 7, 3, 7, 5, 7, 6, 7, 7, 6, 7, 6, 6, 5,
               6, 5, 6, 6, 5, 6, 6, 7, 8, 6, 6, 6, 5, 6, 6, 5, 6, 6, 7, 6,
               6, 6, 7, 6, 5, 6, 6, 5, 6, 5, 6, 6, 7, 6, 6, 5, 6, 6, 7, 6,
               7, 6, 6, 5, 6, 6, 6, 5, 7, 6, 6, 5, 6, 6, 7, 6, 6, 5, 6, 8,
               6, 5, 6, 7, 6, 6, 7, 5, 6, 6, 7, 6, 6, 5, 6, 6, 5, 6, 6, 5, 6]
coact_b_gap_start = [0.21, 0.49, 0.73, 1.02, 1.12, 1.93, 2.32, 2.47, 2.69, 2.86, 3.57, 3.84, 4.5, 4.72, 5.6, 6.0, 6.5, 7.0, 7.5, 7.9, 8.3, 8.75]
coact_b_gap_end = [0.28, 0.63, 0.82, 1.08, 1.3, 2.0, 2.38, 2.58, 2.74, 2.93, 3.74, 3.94, 4.56, 4.8, 5.7, 6.1, 6.6, 7.1, 7.55, 8.0, 8.4, 8.85]

# % activity per neuron, neuron 1 first
hist_a = [2.4, 2.7, 1.3, 0.2, 2.1, 5.0, 10.4, 3.0, 1.5, 0.4, 0.5, 14.0, 0.8, 10.7, 7.2, 6.1, 1.3, 7.5, 0.6, 2.4, 1.5, 5.0, 1.8, 0.6, 1.0,
          2.7, 18.4, 2.1, 2.1, 1.5, 8.4, 3.8, 0.2, 0.7, 2.7, 1.5, 1.1, 4.0, 15.8, 1.5, 1.0, 4.4, 1.0, 2.1, 0.7, 2.1, 1.0, 4.4, 1.8, 0.2,
          1.3, 1.0, 0.4, 3.1, 1.3, 5.5, 3.3, 1.5, 2.9, 0.4, 1.3, 1.0, 3.4, 1.2, 2.7, 1.3, 3.0, 0.4, 2.1]
hist_b = [2.7, 2.0, 1.0, 0.2, 2.0, 6.0, 10.6, 3.0, 1.0, 0.3, 0.5, 14.4, 0.7, 10.9, 7.0, 5.5, 1.2, 7.6, 0.4, 2.5, 1.5, 5.0, 1.8, 0.4, 1.0,
          3.0, 18.5, 2.5, 2.0, 1.5, 8.4, 3.5, 1.5, 0.3, 2.8, 1.2, 1.0, 4.0, 16.0, 1.2, 1.5, 4.3, 1.0, 2.1, 1.0, 1.6, 0.7, 4.4, 1.0, 0.2,
          0.9, 0.3, 0.3, 3.1, 0.5, 5.7, 1.5, 1.0, 3.0, 1.0, 1.0, 0.6, 3.5, 1.0, 1.5, 3.0, 0.8, 0.7, 2.2]
hist_c = [2.5, 2.6, 1.2, 0.3, 2.0, 4.8, 10.0, 3.2, 1.2, 0.4, 0.6, 14.2, 1.0, 11.0, 7.2, 6.0, 1.3, 7.0, 0.5, 2.2, 1.4, 4.8, 1.6, 0.5, 1.2,
          2.8, 18.6, 2.3, 2.0, 1.6, 8.1, 3.6, 0.4, 0.6, 2.5, 1.4, 1.0, 3.8, 16.4, 1.4, 1.1, 4.1, 1.0, 2.0, 0.8, 2.0, 0.9, 4.3, 1.5, 0.3,
          1.1, 0.7, 0.5, 3.0, 1.2, 5.4, 2.8, 1.3, 2.9, 0.5, 1.2, 0.9, 3.3, 1.0, 2.4, 2.9, 1.0, 0.5, 2.0]

# panel D threshold and detected events
thresh_t = [0, 0.166, 0.218, 0.323, 0.428, 0.522, 0.721, 0.868, 1.036, 1.203, 1.371, 1.413, 1.706, 1.874, 2.293, 2.356, 2.545, 2.629,
            2.755, 2.897, 3.013, 3.107, 3.149, 3.338, 3.379, 3.757, 3.83, 4.113, 4.155, 4.26, 4.30, 4.51, 4.83, 5.04, 5.31, 5.48,
            5.75, 5.8, 6.04, 6.12, 6.2, 6.56, 6.58, 6.65, 6.7, 6.79, 6.95, 6.99, 7.03, 7.23, 7.47, 7.71, 7.75, 7.87, 7.94, 8.26,
            8.42, 8.66, 8.69, 8.82, 9]
thresh_v = [5.04, 4.98, 5.3, 5.2, 5.15, 5.22, 5.16, 5.07, 5.01, 4.98, 4.93, 5.02, 4.96, 5.15, 5.13, 5.2, 5.19, 5.04,
            4.98, 4.98, 4.91, 5.15, 5.11, 5.16, 5.26, 5.22, 5.01, 5.06, 5.16, 5.17, 5.28, 5.37, 5.35, 5.35, 5.41, 5.26,
            5.34, 5.41, 5.41, 5.37, 5.48, 5.54, 5.6, 5.57, 5.43, 5.41, 5.41, 5.32, 5.39, 5.45, 5.5, 5.56, 5.46, 5.43, 5.34, 5.4,
            5.49, 5.5, 5.4, 5.52, 5.49]
event_t = [0.80, 1.33, 1.34, 1.97, 2.0, 3.17, 3.2, 3.51, 3.58, 3.66, 4.83, 4.86, 4.89, 4.95, 4.98, 5.15, 5.92, 5.93, 5.95, 6.06, 6.08,
           6.63, 6.85, 6.87, 7.55, 7.93, 8.37, 8.51, 8.82]
event_v = [6.1, 6, 6, 6.05, 7, 6, 6, 6, 7, 6, 6, 6, 8, 6, 6, 6, 7, 6, 6, 6, 7, 6, 6, 6, 6, 6, 8, 6, 7]

time_ticks = [0, 1, 2, 3, 4, 5, 6, 7, 8, 9]
coact_ticks = [3, 6, 9]
neuron_ticks = [10, 20, 30, 40, 50, 60]
d_y_ticks = [1, 2, 3, 4, 5, 6, 7, 8, 9]
hist_ticks = [0, 10]

BLACK = "#000000"


def stitch(*minutes):
    # each list covers one minute, so its samples are spread evenly inside that minute
    t, v = [], []
    for m, vals in enumerate(minutes):
        t.extend(m + np.arange(len(vals)) / len(vals))
        v.extend(vals)
    return np.array(t), np.array(v)


def box(fig, left, top, right, bottom):
    # position given in preview pixels
    x0, x1 = left * S / W, right * S / W
    y0, y1 = 1 - bottom * S / H, 1 - top * S / H
    return fig.add_axes([x0, y0, x1 - x0, y1 - y0])


def style(ax, size=34, lw=3.6, length=5, pad=10):
    for s in ("top", "right"):
        ax.spines[s].set_visible(False)
    ax.spines["left"].set_linewidth(lw)
    ax.spines["bottom"].set_linewidth(lw)
    ax.tick_params(length=length, width=lw, labelsize=size, pad=pad, color=BLACK)
    ax.patch.set_alpha(0)


def label(fig, x, y, s, size=45, rot=0, weight="normal", ha="center"):
    fig.text(x * S / W, 1 - y * S / H, s, fontsize=size, rotation=rot, fontweight=weight,
             ha=ha, va="center", color=BLACK)


def raster(fig, left, top, right, bottom, ylim, ms, *parts):
    ax = box(fig, left, top, right, bottom)
    style(ax, lw=5)
    ax.spines["bottom"].set_visible(False)
    for part in parts:
        for row, times in part.items():
            ax.plot(times, [row] * len(times), "s", ms=ms, mew=0, color=BLACK, clip_on=False)
    ax.set_xlim(0, 9)
    ax.set_ylim(*ylim)
    ax.set_xticks([])
    ax.set_yticks(neuron_ticks)
    return ax


def coact_axes(fig, left, top, right, bottom):
    ax = box(fig, left, top, right, bottom)
    style(ax, lw=5.5)
    ax.set_xlim(0, 9)
    ax.set_ylim(0, 9)
    ax.set_xticks(time_ticks)
    ax.set_yticks(coact_ticks)
    return ax


def hist_axes(fig, left, top, right, bottom, ylim, vals):
    ax = box(fig, left, top, right, bottom)
    style(ax, lw=5)
    ax.plot(vals, np.arange(1, len(vals) + 1), color=BLACK, lw=4.4)
    ax.set_xlim(0, 18.5)
    ax.set_ylim(*ylim)
    ax.set_xticks(hist_ticks)
    ax.set_yticks([])
    return ax


def main():
    fig = plt.figure(figsize=(W / 100, H / 100), dpi=100, facecolor="white")

    t_a, v_a = stitch(coact_a_m0, coact_a_m1, coact_a_m2, coact_a_m3, coact_a_m4,
                      coact_a_m5, coact_a_m6, coact_a_m7, coact_a_m8)
    t_c, v_c = stitch(coact_c_m0, coact_c_m1, coact_c_m2, coact_c_m3, coact_c_m4,
                      coact_c_m5, coact_c_m6, coact_c_m7, coact_c_m8)

    # A
    raster(fig, 61, 172, 618, 398, (0.85, 69.76), 8.5, raster_a_left, raster_a_right)
    ax = coact_axes(fig, 61, 408, 618, 482)
    ax.plot(t_a, v_a, color=BLACK, lw=4.6)
    hist_axes(fig, 656, 172, 732, 398, (0.85, 69.76), hist_a)
    label(fig, 2, 177, "A", 52, weight="bold", ha="left")
    label(fig, 12, 282, "Neuron Label", 46, rot=90)
    label(fig, 12, 448, "Coactivity", 45, rot=90)
    label(fig, 342, 526, "Time (min)")
    label(fig, 691, 437, "% Activity")

    # B
    b_rows = {}
    for row, line in raster_b_rows.items():
        b_rows[row] = [c * 0.06 + 0.03 for c, ch in enumerate(line) if ch == "#"]
    raster(fig, 886, 2, 1445, 228, (0.85, 69.76), 7.2, b_rows)
    ax = coact_axes(fig, 886, 238, 1445, 313)
    t_b = np.arange(len(coact_b_top)) * 0.05
    t_b = t_b[t_b <= 9]
    top_b = np.array(coact_b_top)[:len(t_b)]
    ax.fill_between(t_b, 0, np.minimum(top_b, 4.6), step="post", color=BLACK, lw=0)
    ax.vlines(t_b + 0.025, 0, top_b, color=BLACK, lw=3.6)
    for a, b in zip(coact_b_gap_start, coact_b_gap_end):
        ax.fill_between([a, b], 0.3, 0.9, color="white", lw=0)
    hist_axes(fig, 1481, 2, 1558, 228, (0.85, 69.76), hist_b)
    label(fig, 829, 15, "B", 52, weight="bold", ha="left")
    label(fig, 838, 113, "Neuron Label", 46, rot=90)
    label(fig, 838, 278, "Coactivity", 45, rot=90)
    label(fig, 1168, 356, "Time (min)")
    label(fig, 1517, 266, "% Activity")

    # C
    raster(fig, 886, 410, 1445, 636, (0.55, 69.45), 8.5, raster_c_left, raster_c_right)
    ax = coact_axes(fig, 886, 648, 1445, 721)
    ax.plot(t_c, v_c, color=BLACK, lw=4.0)
    hist_axes(fig, 1481, 410, 1558, 636, (0.55, 69.45), hist_c)
    label(fig, 829, 419, "C", 52, weight="bold", ha="left")
    label(fig, 838, 520, "Neuron Label", 46, rot=90)
    label(fig, 838, 686, "Coactivity", 45, rot=90)
    label(fig, 1168, 764, "Time (min)")
    label(fig, 1517, 674, "% Activity")

    # D
    ax = box(fig, 64, 829, 1555, 1079)
    style(ax, size=30, lw=4.4, length=8, pad=14)
    ax.fill_between(thresh_t, 0, thresh_v, color="#E2E2E2", lw=0)
    ax.plot(thresh_t, thresh_v, color="#BDBDBD", lw=4.0)
    ax.plot(t_a, v_a, color=BLACK, lw=3.6)
    ax.plot(event_t, event_v, "*", ms=44, mew=0, color="#E8112D", clip_on=False, zorder=5)
    ax.set_xlim(0, 9)
    ax.set_ylim(0, 9)
    ax.set_xticks(time_ticks)
    ax.set_yticks(d_y_ticks)
    label(fig, 2, 828, "D", 52, weight="bold", ha="left")
    label(fig, 12, 960, "Coactivity", 45, rot=90)
    label(fig, 761, 1128, "Time (min)")

    fig.savefig("out.png", dpi=100, facecolor="white")


if __name__ == "__main__":
    main()
